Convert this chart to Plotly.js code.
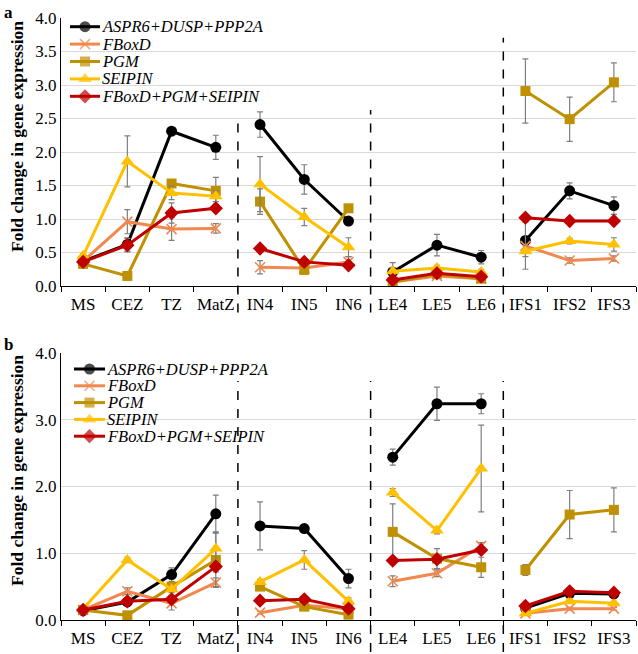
<!DOCTYPE html>
<html>
<head>
<meta charset="utf-8">
<script src="https://cdn.plot.ly/plotly-3.0.1.min.js"></script>
<style>html,body{margin:0;padding:0;background:#fff;}#chart{width:638px;height:654px;}</style>
</head>
<body>
<div id="chart"></div>
<script>
// Categories and groups
const categories = ["MS","CEZ","TZ","MatZ","IN4","IN5","IN6","LE4","LE5","LE6","IFS1","IFS2","IFS3"];
const groupBounds = [[0,4],[4,7],[7,10],[10,13]];

const seriesNames = ["ASPR6+DUSP+PPP2A","FBoxD","PGM","SEIPIN","FBoxD+PGM+SEIPIN"];
const yTitle = "Fold change in gene expression";

// Panel a values
const asprA     = [0.37,0.62,2.31,2.07, 2.41,1.59,0.97, 0.21,0.61,0.43, 0.68,1.42,1.20];
const asprAErr  = [0.03,0.10,0.02,0.18, 0.19,0.22,0.05, 0.14,0.16,0.10, 0.05,0.12,0.13];
const fboxA     = [0.37,0.96,0.85,0.86, 0.28,0.27,0.36, 0.06,0.15,0.11, 0.60,0.38,0.41];
const fboxAErr  = [0.03,0.18,0.17,0.07, 0.10,0.03,0.08, 0.03,0.03,0.03, 0.35,0.04,0.04];
const pgmA      = [0.33,0.15,1.53,1.42, 1.26,0.24,1.16, 0.06,0.18,0.11, 2.91,2.49,3.04];
const pgmAErr   = [0.03,0.03,0.05,0.20, 0.19,0.03,0.05, 0.03,0.03,0.03, 0.48,0.33,0.29];
const seipinA   = [0.45,1.86,1.39,1.34, 1.52,1.03,0.58, 0.22,0.27,0.21, 0.52,0.67,0.62];
const seipinAErr= [0.03,0.38,0.10,0.08, 0.41,0.13,0.14, 0.05,0.04,0.04, 0.08,0.04,0.10];
const comboA    = [0.36,0.61,1.09,1.16, 0.56,0.36,0.31, 0.09,0.19,0.14, 1.02,0.97,0.97];
const comboAErr = [0.03,0.10,0.15,0.05, 0.05,0.03,0.05, 0.03,0.03,0.03, 0.03,0.03,0.03];

// Panel b values
const asprB     = [0.14,0.27,0.68,1.59, 1.41,1.37,0.62, 2.44,3.24,3.24, 0.18,0.40,0.39];
const asprBErr  = [0.02,0.03,0.10,0.28, 0.36,0.03,0.14, 0.12,0.25,0.15, 0.03,0.03,0.03];
const fboxB     = [0.15,0.43,0.25,0.56, 0.11,0.22,0.17, 0.58,0.70,1.11, 0.10,0.17,0.17];
const fboxBErr  = [0.02,0.05,0.10,0.07, 0.02,0.02,0.02, 0.08,0.05,0.05, 0.02,0.02,0.02];
const pgmB      = [0.15,0.07,0.50,0.90, 0.50,0.20,0.08, 1.32,0.92,0.79, 0.75,1.58,1.65];
const pgmBErr   = [0.02,0.02,0.05,0.40, 0.05,0.02,0.02, 0.42,0.15,0.15, 0.08,0.36,0.33];
const seipinB   = [0.17,0.90,0.46,1.07, 0.57,0.90,0.28, 1.91,1.34,2.27, 0.10,0.28,0.25];
const seipinBErr= [0.02,0.04,0.05,0.25, 0.04,0.14,0.05, 0.06,0.05,0.65, 0.02,0.03,0.03];
const comboB    = [0.15,0.28,0.31,0.80, 0.29,0.31,0.17, 0.89,0.91,1.05, 0.21,0.43,0.41];
const comboBErr = [0.02,0.03,0.05,0.08, 0.02,0.02,0.02, 0.05,0.05,0.05, 0.02,0.03,0.03];

const styles = [
  {color:"#000000", symbol:"circle", size:11},
  {color:"#F0884F", symbol:"x-thin-open", size:10},
  {color:"#BF9000", symbol:"square", size:10},
  {color:"#FFC000", symbol:"triangle-up", size:12},
  {color:"#C00000", symbol:"diamond", size:11}
];

const panelA = [[asprA,asprAErr],[fboxA,fboxAErr],[pgmA,pgmAErr],[seipinA,seipinAErr],[comboA,comboAErr]];
const panelB = [[asprB,asprBErr],[fboxB,fboxBErr],[pgmB,pgmBErr],[seipinB,seipinBErr],[comboB,comboBErr]];

const serif = "Liberation Serif";
const traces = [];
function markerOf(st, sizes){
  return {color:st.color, symbol:st.symbol, size:sizes,
          line:{color:st.color, width: st.symbol==="x-thin-open"?1.6:0}};
}
function addPanel(data, xa, ya){
  data.forEach((d, si) => {
    const st = styles[si];
    groupBounds.forEach((g) => {
      traces.push({
        type:"scatter", mode:"lines+markers",
        x: categories.slice(g[0], g[1]),
        y: d[0].slice(g[0], g[1]),
        error_y:{type:"data", array:d[1].slice(g[0], g[1]), visible:true, color:"#7f7f7f", thickness:1.2, width:3},
        xaxis:xa, yaxis:ya,
        name: seriesNames[si], showlegend:false,
        line:{color:st.color, width:3},
        marker: markerOf(st, st.size)
      });
    });
  });
}
addPanel(panelA, "x", "y");
addPanel(panelB, "x2", "y2");

// Legend keys drawn on a hidden overlay axis measured in page pixels
const legendBoxes = [
  {x0:70, x1:100, top:26.7, step:17.4},
  {x0:74, x1:105, top:369, step:16.8}
];
const annotations = [];
legendBoxes.forEach(lb => {
  styles.forEach((st, si) => {
    const yy = lb.top + si*lb.step;
    traces.push({
      type:"scatter", mode:"lines+markers", xaxis:"x3", yaxis:"y3",
      x:[lb.x0, (lb.x0+lb.x1)/2, lb.x1], y:[yy, yy, yy],
      line:{color:st.color, width:3}, marker: markerOf(st, [0, st.size, 0]),
      showlegend:false, hoverinfo:"skip", cliponaxis:false
    });
    annotations.push({text:"<i>"+seriesNames[si]+"</i>", xref:"x3", yref:"y3", x:lb.x1+1, y:yy,
      xanchor:"left", yanchor:"middle", showarrow:false, font:{family:serif, size:16.5, color:"#000"},
      borderpad:0});
  });
});

// Rotated y-axis titles (positioned like the reference)
[137, 471].forEach(py => {
  annotations.push({text:"<b>"+yTitle+"</b>", xref:"paper", yref:"y3", x:(17-61)/575, y:py,
    xanchor:"center", yanchor:"middle", textangle:-90, showarrow:false,
    font:{family:serif, size:17.5, color:"#000"}});
});

const xCommon = {
  type:"category", categoryorder:"array", categoryarray:categories,
  range:[-0.5, 12.5], tickson:"boundaries", ticks:"outside", ticklen:5, tickcolor:"#000",
  showline:true, linecolor:"#000", linewidth:1, showgrid:false, zeroline:false, tickangle:0,
  ticklabelstandoff:3,
  tickfont:{family:serif, size:17, color:"#000"}
};
const yCommon = {
  showline:true, linecolor:"#000", linewidth:1, ticks:"", tickformat:".1f",
  showgrid:true, gridcolor:"#d9d9d9", gridwidth:1, zeroline:false,
  tickfont:{family:serif, size:17, color:"#000"}
};

const shapes = [];
function vline(xpos, y0, y1){
  shapes.push({type:"line", xref:"x", yref:"paper", x0:xpos, x1:xpos, y0:y0, y1:y1,
    line:{color:"#000", width:1.5, dash:"dash"}});
}
vline(3.5, 0.511, 0.826);
vline(6.5, 0.511, 0.847);
vline(9.5, 0.511, 0.967);
vline(3.5, -0.053, 0.397);
vline(6.5, -0.053, 0.397);
vline(9.5, -0.053, 0.397);

annotations.push(
  {text:"<b>a</b>", xref:"paper", yref:"paper", x:-0.103, y:1.028, xanchor:"left", yanchor:"top", showarrow:false, font:{family:serif, size:17, color:"#000"}},
  {text:"<b>b</b>", xref:"paper", yref:"paper", x:-0.103, y:0.476, xanchor:"left", yanchor:"top", showarrow:false, font:{family:serif, size:17, color:"#000"}}
);

const layout = {
  width:638, height:654,
  margin:{l:61, r:2, t:18, b:34},
  paper_bgcolor:"#fff", plot_bgcolor:"rgba(0,0,0,0)",
  showlegend:false,
  xaxis: Object.assign({}, xCommon, {anchor:"y"}),
  xaxis2: Object.assign({}, xCommon, {anchor:"y2"}),
  yaxis: Object.assign({}, yCommon, {domain:[0.5548,1], range:[0,4], dtick:0.5, anchor:"x"}),
  yaxis2: Object.assign({}, yCommon, {domain:[0,0.4435], range:[0,4], dtick:1, anchor:"x2"}),
  xaxis3:{domain:[0,1], range:[61,636], visible:false, showgrid:false, zeroline:false, anchor:"y3", fixedrange:true},
  yaxis3:{domain:[0,1], range:[620,18], visible:false, showgrid:false, zeroline:false, anchor:"x3", fixedrange:true},
  shapes: shapes,
  annotations: annotations
};

Plotly.newPlot("chart", traces, layout, {displayModeBar:false, staticPlot:true});
</script>
</body>
</html>
